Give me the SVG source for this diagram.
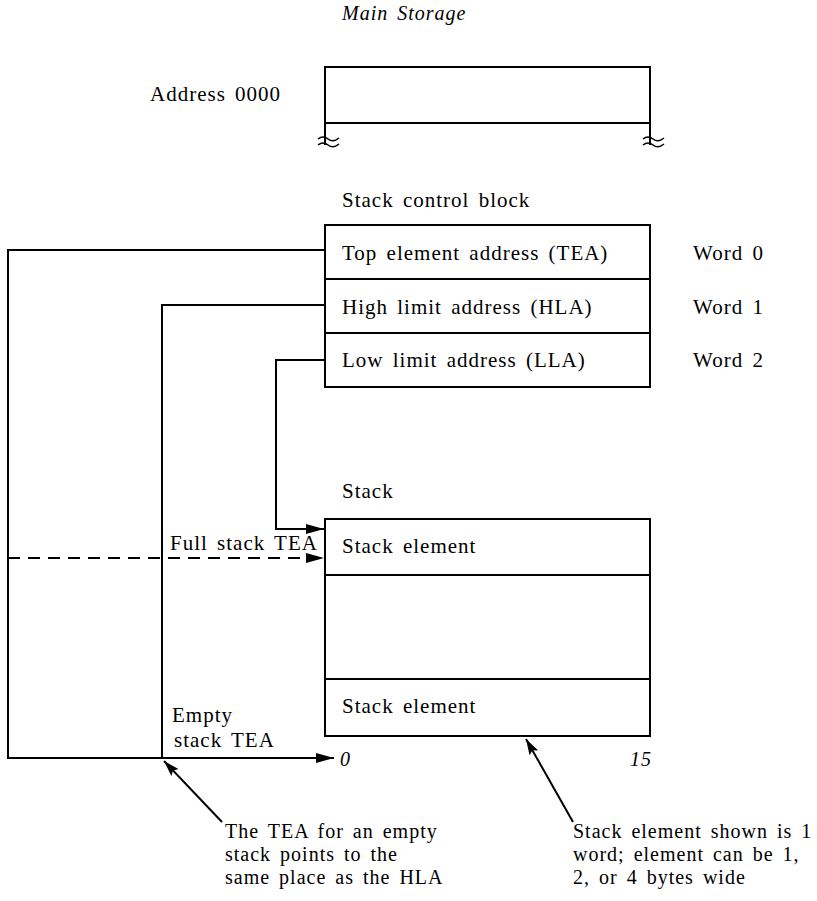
<svg xmlns="http://www.w3.org/2000/svg" width="817" height="901" viewBox="0 0 817 901">
<defs>
<style>
text{font-family:"Liberation Serif","Times New Roman",serif;font-size:21px;fill:#000;letter-spacing:1px;word-spacing:3px}
.it{font-style:italic;font-size:20px}
.note{font-size:20px}
.ln{fill:none;stroke:#000;stroke-width:2}
.sq{fill:none;stroke:#000;stroke-width:1.6}
.dash{fill:none;stroke:#000;stroke-width:2;stroke-dasharray:12 8}
.box{fill:#fff;stroke:#000;stroke-width:2}
</style>
<marker id="ah" viewBox="0 0 18 10" refX="18" refY="5" markerWidth="18" markerHeight="10" markerUnits="userSpaceOnUse" orient="auto">
<path d="M0,0 L18,5 L0,10 Z" fill="#000"/>
</marker>
<marker id="ah2" viewBox="0 0 16 10" refX="16" refY="5" markerWidth="16" markerHeight="10" markerUnits="userSpaceOnUse" orient="auto">
<path d="M0,0 L16,5 L0,10 L3,5 Z" fill="#000"/>
</marker>
</defs>
<rect width="817" height="901" fill="#fff"/>

<text class="it" x="342" y="20">Main Storage</text>

<g id="main-storage">
<text x="150" y="101">Address 0000</text>
<path class="ln" d="M325,145 V67 H650 V145 M325,123 H650"/>
<path class="sq" d="M318,139 q5,-4 10,0 t11,-1 M318,145 q5,-4 10,0 t11,-1"/>
<path class="sq" d="M643,139 q5,-4 10,0 t11,-1 M643,145 q5,-4 10,0 t11,-1"/>
</g>

<g id="stack-control-block">
<text x="342" y="207">Stack control block</text>
<rect class="box" x="325" y="225" width="325" height="162"/>
<path class="ln" d="M325,279 H650 M325,333 H650"/>
<text x="342" y="260">Top element address (TEA)</text>
<text x="342" y="314">High limit address (HLA)</text>
<text x="342" y="367">Low limit address (LLA)</text>
<text x="693" y="260">Word 0</text>
<text x="693" y="314">Word 1</text>
<text x="693" y="367">Word 2</text>
</g>

<g id="stack">
<text x="342" y="498">Stack</text>
<rect class="box" x="325" y="519" width="325" height="217"/>
<path class="ln" d="M325,575 H650 M325,679 H650"/>
<text x="342" y="553">Stack element</text>
<text x="342" y="713">Stack element</text>
<text class="it" x="340" y="766">0</text>
<text class="it" x="630" y="766">15</text>
</g>

<g id="connectors">
<path class="ln" d="M325,250 H8 V758 H334" marker-end="url(#ah)"/>
<path class="ln" d="M325,305 H162 V758"/>
<path class="ln" d="M325,360 H276 V529 H324" marker-end="url(#ah)"/>
<path class="dash" d="M8,558 H324" marker-end="url(#ah)"/>
<path class="ln" d="M222,822 L164,761" marker-end="url(#ah2)"/>
<path class="ln" d="M573,822 L526,739" marker-end="url(#ah2)"/>
</g>

<g id="labels">
<text x="170" y="550">Full stack TEA</text>
<text x="172" y="722">Empty</text>
<text x="174" y="747">stack TEA</text>
</g>

<g id="notes">
<text class="note" x="225" y="838">The TEA for an empty</text>
<text class="note" x="225" y="861">stack points to the</text>
<text class="note" x="225" y="884">same place as the HLA</text>
<text class="note" x="573" y="838">Stack element shown is 1</text>
<text class="note" x="573" y="861">word; element can be 1,</text>
<text class="note" x="573" y="884">2, or 4 bytes wide</text>
</g>
</svg>
